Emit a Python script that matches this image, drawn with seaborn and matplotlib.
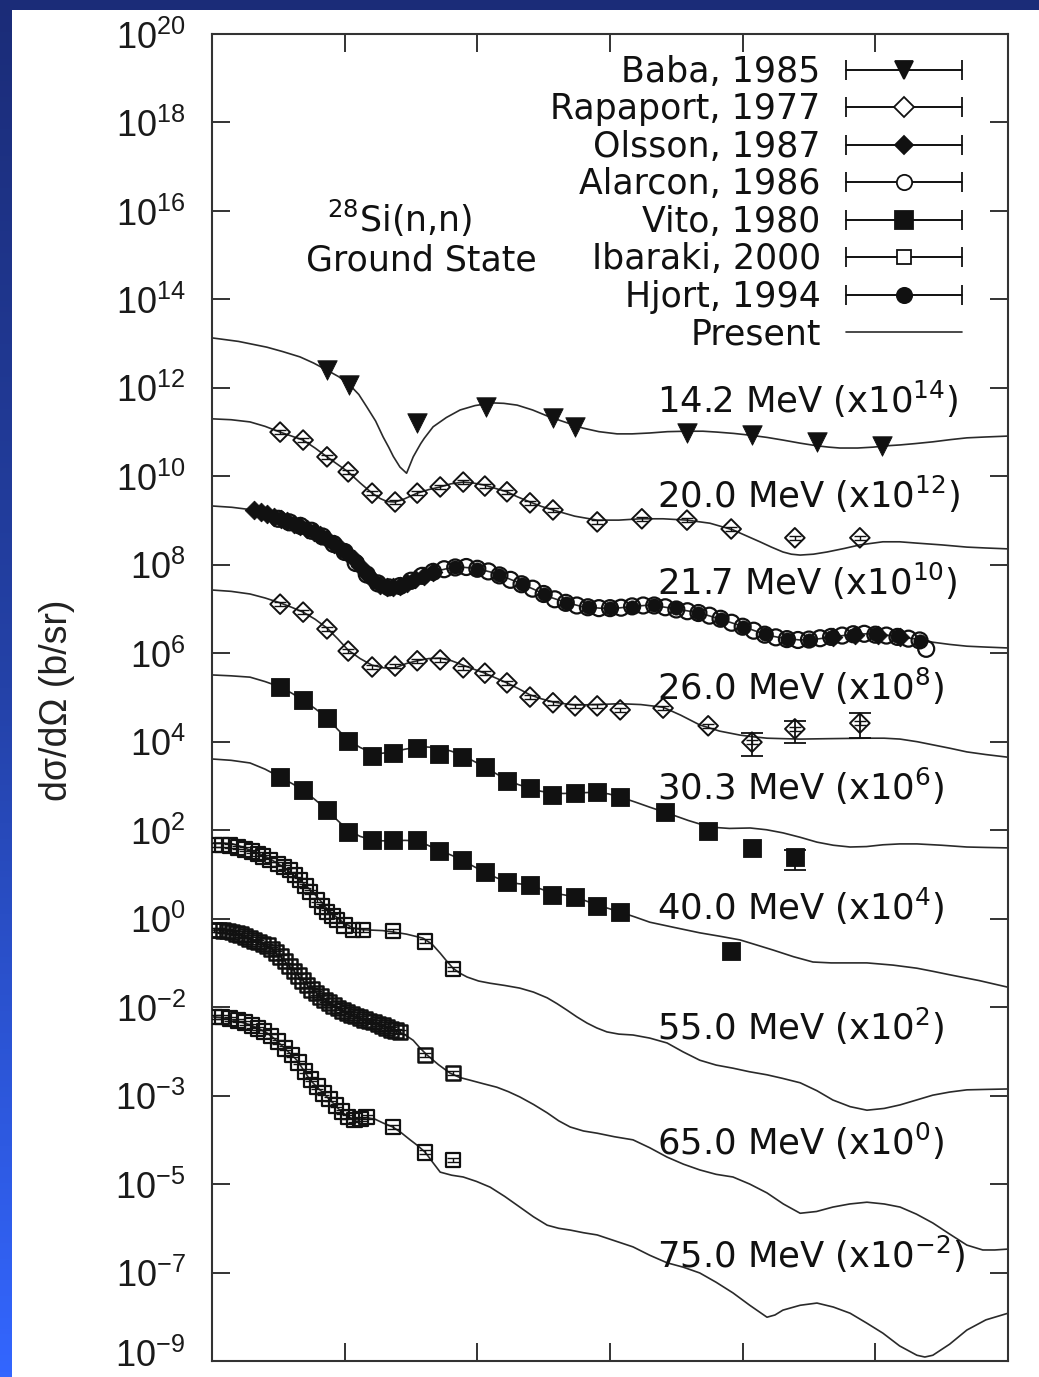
import numpy as np
import matplotlib
matplotlib.use("Agg")
import matplotlib.pyplot as plt
import seaborn as sns
from matplotlib.container import ErrorbarContainer
from matplotlib.legend_handler import HandlerErrorbar
from matplotlib.lines import Line2D
from matplotlib.patches import Rectangle
from matplotlib.ticker import FixedLocator, FixedFormatter, NullLocator
from matplotlib.colors import LinearSegmentedColormap

# ---------------- data: angle (deg) and log10 of scaled dsigma/dOmega (b/sr) ----------------
# "Present" calculation curves
c142_deg = [0, 6, 12.4, 16, 19.9, 23, 26.0, 28.7, 31.2, 33.2, 35.0, 37.0, 38.7, 40.0, 41.0, 42.5, 44.0, 45.5,
            46.4, 47.2, 48.0, 49.0, 50.0, 53.0, 56.1, 59.5, 63.5, 66.0, 69.0, 72.5, 76.4, 80.0, 83.9, 87.5,
            91.6, 95.0, 99.0, 103.0, 107.4, 111.0, 114.2, 118.0, 121.7, 125.5, 129.1, 133.0, 136.8, 139.5,
            142.0, 146.0, 149.5, 152.5, 155.6, 159.0, 163.0, 167.0, 170.7, 175.0, 180]
c142_log = [13.13, 13.05, 12.92, 12.82, 12.70, 12.56, 12.40, 12.25, 12.06, 11.85, 11.57, 11.25, 10.89, 10.65,
            10.45, 10.21, 10.07, 10.44, 10.60, 10.74, 10.86, 10.99, 11.12, 11.33, 11.50, 11.60, 11.66, 11.65,
            11.61, 11.50, 11.34, 11.22, 11.09, 11.01, 10.96, 10.96, 10.98, 11.01, 11.02, 11.02, 11.00, 10.97,
            10.93, 10.88, 10.82, 10.75, 10.69, 10.66, 10.64, 10.64, 10.66, 10.69, 10.71, 10.74, 10.78, 10.83,
            10.87, 10.89, 10.91]

c200_deg = [0, 4.3, 8.6, 12, 15.4, 20.6, 23.3, 26.0, 30.8, 33.5, 36.2, 38.0, 39.6, 41.4, 43.5, 46.4, 49.0,
            51.6, 54.0, 56.8, 59.0, 61.7, 64.0, 66.7, 69.0, 71.9, 74.5, 77.1, 82.0, 87.1, 92.0, 96.8, 102.0,
            107.4, 112.6, 117.8, 120.5, 123.9, 126.5, 129.1, 131.0, 133.0, 136.0, 139.1, 143.0, 146.5, 151.7,
            155.5, 159.4, 165.0, 170.7, 175.0, 180]
c200_log = [11.30, 11.28, 11.23, 11.13, 11.00, 10.82, 10.64, 10.44, 10.10, 9.85, 9.62, 9.50, 9.43, 9.42, 9.49,
            9.62, 9.70, 9.76, 9.83, 9.87, 9.85, 9.80, 9.73, 9.65, 9.54, 9.42, 9.32, 9.24, 9.10, 9.01, 9.01, 9.04,
            9.04, 9.01, 8.94, 8.79, 8.67, 8.52, 8.40, 8.29, 8.24, 8.22, 8.24, 8.29, 8.37, 8.45, 8.52, 8.52, 8.49,
            8.45, 8.40, 8.38, 8.36]

c217_deg = [0, 4.5, 9.3, 12.7, 16.1, 20.0, 23.7, 26.7, 29.6, 31.8, 34.1, 35.7, 37.3, 38.8, 40.3, 42.2, 44.1,
            47.0, 50.0, 53.0, 56.1, 59.5, 62.9, 66.0, 69.0, 72.7, 76.4, 80.0, 83.9, 87.7, 91.6, 95.3, 99.0,
            104.6, 110.3, 114.0, 117.8, 121.6, 125.5, 129.2, 133.0, 136.7, 140.4, 144.2, 148.1, 151.8, 155.6,
            159.3, 163.0, 166.8, 170.7, 175.0, 180]
c217_log = [9.33, 9.30, 9.24, 9.14, 9.01, 8.88, 8.72, 8.54, 8.33, 8.12, 7.88, 7.73, 7.59, 7.52, 7.48, 7.52,
            7.59, 7.73, 7.84, 7.91, 7.95, 7.92, 7.84, 7.73, 7.61, 7.45, 7.27, 7.15, 7.05, 7.02, 7.02, 7.06,
            7.09, 7.01, 6.91, 6.80, 6.68, 6.55, 6.41, 6.34, 6.30, 6.32, 6.37, 6.42, 6.44, 6.42, 6.37, 6.32,
            6.25, 6.20, 6.16, 6.14, 6.12]

c260_deg = [0, 4.3, 8.6, 12.0, 15.4, 18.0, 20.6, 23.3, 26.0, 28.4, 30.8, 33.5, 36.2, 38.8, 41.4, 44.0, 46.4,
            49.0, 51.6, 54.2, 56.8, 59.2, 61.7, 64.2, 66.7, 69.3, 71.9, 74.5, 77.1, 79.6, 82.1, 87.0, 92.3,
            97.0, 102.0, 106.0, 110.3, 114.8, 119.4, 122.5, 125.5, 129.0, 133.0, 140.0, 148.1, 152.0, 155.6,
            159.5, 163.0, 167.0, 170.7, 175.0, 180]
c260_log = [7.43, 7.40, 7.34, 7.25, 7.14, 7.04, 6.93, 6.77, 6.57, 6.33, 6.07, 5.88, 5.73, 5.67, 5.67, 5.77,
            5.83, 5.88, 5.89, 5.83, 5.73, 5.64, 5.55, 5.44, 5.33, 5.20, 5.06, 4.97, 4.90, 4.86, 4.83, 4.84,
            4.86, 4.84, 4.78, 4.60, 4.38, 4.24, 4.15, 4.11, 4.08, 4.07, 4.06, 4.07, 4.08, 4.08, 4.06, 4.00,
            3.93, 3.85, 3.77, 3.71, 3.65]

c303_deg = [0, 4.3, 8.6, 12.0, 15.4, 18.0, 20.6, 23.3, 26.0, 28.4, 30.8, 33.5, 36.2, 38.5, 40.9, 43.6, 46.4,
            48.8, 51.3, 54.0, 56.5, 59.0, 61.7, 64.2, 66.7, 69.3, 71.9, 74.4, 76.9, 79.5, 82.1, 84.6, 87.1,
            89.7, 92.3, 95.6, 99.0, 102.9, 107.7, 112.6, 117.0, 121.7, 125.4, 129.1, 133.0, 136.8, 140.5,
            144.3, 148.0, 151.7, 155.5, 159.4, 165.0, 170.7, 175.0, 180]
c303_log = [5.51, 5.49, 5.46, 5.36, 5.24, 5.10, 4.94, 4.75, 4.54, 4.28, 4.04, 3.87, 3.75, 3.74, 3.77, 3.83,
            3.88, 3.88, 3.86, 3.79, 3.70, 3.57, 3.43, 3.28, 3.14, 3.03, 2.95, 2.88, 2.84, 2.83, 2.84, 2.85,
            2.86, 2.82, 2.75, 2.64, 2.52, 2.39, 2.22, 2.07, 2.04, 2.05, 2.01, 1.94, 1.84, 1.73, 1.66, 1.62,
            1.63, 1.67, 1.69, 1.69, 1.66, 1.62, 1.61, 1.60]

c400_deg = [0, 4.3, 8.6, 12.0, 15.4, 18.0, 20.6, 23.3, 26.0, 28.4, 30.8, 33.5, 36.2, 38.5, 40.9, 43.6, 46.4,
            48.8, 51.3, 54.0, 56.5, 59.0, 61.7, 64.2, 66.7, 69.3, 71.9, 74.4, 76.9, 79.5, 82.1, 84.6, 87.1,
            89.7, 92.3, 95.6, 99.0, 104.6, 110.3, 115.0, 119.4, 123.0, 126.9, 131.5, 135.9, 140.0, 148.1,
            154.0, 159.4, 163.0, 166.9, 173.5, 180]
c400_log = [3.61, 3.58, 3.52, 3.38, 3.20, 3.06, 2.91, 2.69, 2.46, 2.22, 2.00, 1.86, 1.78, 1.76, 1.76, 1.77,
            1.76, 1.66, 1.55, 1.44, 1.33, 1.19, 1.05, 0.93, 0.83, 0.79, 0.76, 0.67, 0.58, 0.54, 0.49, 0.40,
            0.31, 0.23, 0.15, 0.04, -0.08, -0.20, -0.32, -0.40, -0.48, -0.59, -0.71, -0.86, -0.98, -1.00,
            -1.00, -1.05, -1.12, -1.19, -1.27, -1.40, -1.55]

c550_deg = [0, 2.4, 4.7, 6.6, 8.6, 10.5, 12.4, 14.7, 17.0, 19.9, 22.8, 24.4, 26.0, 27.4, 29.6, 31.9, 34.0,
            36.4, 38.6, 40.9, 44.0, 47.7, 49.8, 51.6, 53.0, 54.5, 56.0, 57.7, 60.3, 62.9, 66.2, 69.6, 72.7,
            75.8, 78.0, 80.3, 82.5, 84.8, 87.0, 89.3, 92.0, 95.2, 99.0, 102.9, 106.5, 110.3, 114.0, 117.8,
            121.5, 125.5, 129.0, 133.0, 136.8, 140.4, 144.3, 148.1, 152.0, 155.6, 159.3, 163.0, 166.8, 170.7,
            175.0, 180]
c550_log = [1.71, 1.71, 1.69, 1.63, 1.55, 1.48, 1.39, 1.26, 1.10, 0.87, 0.60, 0.42, 0.22, 0.10, -0.08, -0.21,
            -0.25, -0.26, -0.27, -0.30, -0.35, -0.44, -0.58, -0.78, -0.95, -1.12, -1.23, -1.32, -1.41, -1.46,
            -1.51, -1.57, -1.66, -1.79, -1.92, -2.07, -2.22, -2.36, -2.47, -2.56, -2.61, -2.63, -2.70, -2.81,
            -3.01, -3.20, -3.31, -3.38, -3.46, -3.53, -3.61, -3.71, -3.89, -4.10, -4.25, -4.33, -4.29, -4.21,
            -4.10, -3.99, -3.92, -3.87, -3.86, -3.85]

c650_deg = [0, 2.4, 4.7, 6.6, 8.6, 10.5, 12.4, 13.9, 15.4, 16.8, 18.3, 20.2, 22.2, 24.8, 27.4, 29.1, 30.8,
            33.5, 36.4, 39.5, 42.5, 44.0, 45.5, 47.0, 48.6, 51.2, 53.8, 56.0, 58.3, 61.3, 64.4, 67.0, 69.6,
            72.7, 75.8, 78.4, 81.0, 84.0, 87.1, 91.0, 95.2, 99.0, 102.9, 106.6, 110.3, 114.0, 117.8, 121.6,
            125.5, 129.2, 133.0, 136.7, 140.4, 144.2, 148.1, 152.0, 155.6, 159.3, 163.0, 166.8, 170.7, 174.3,
            177.0, 180]
c650_log = [-0.26, -0.27, -0.30, -0.37, -0.45, -0.52, -0.60, -0.72, -0.85, -1.00, -1.16, -1.37, -1.57, -1.78,
            -1.95, -2.07, -2.16, -2.26, -2.34, -2.45, -2.57, -2.65, -2.75, -2.92, -3.08, -3.30, -3.49, -3.59,
            -3.65, -3.73, -3.81, -3.91, -4.03, -4.20, -4.39, -4.57, -4.71, -4.80, -4.85, -4.93, -5.00, -5.18,
            -5.39, -5.55, -5.68, -5.78, -5.84, -6.00, -6.20, -6.45, -6.66, -6.62, -6.52, -6.45, -6.41, -6.45,
            -6.52, -6.68, -6.88, -7.13, -7.38, -7.49, -7.49, -7.47]

c750_deg = [0, 2.4, 4.7, 6.6, 8.6, 10.5, 12.4, 14.2, 16.1, 17.7, 19.2, 20.7, 22.2, 23.7, 25.1, 26.3, 27.4,
            28.5, 29.6, 31.2, 32.8, 33.9, 35.0, 36.8, 38.7, 40.9, 42.8, 44.8, 46.5, 48.2, 50.0, 51.6, 54.2,
            56.8, 59.8, 62.9, 66.2, 69.6, 72.7, 75.8, 78.4, 81.0, 84.0, 87.1, 91.0, 95.2, 99.0, 102.9, 106.6,
            110.3, 114.0, 117.8, 121.6, 125.5, 127.3, 129.1, 133.0, 136.8, 140.5, 144.3, 148.0, 151.7, 155.5,
            159.4, 161.2, 163.0, 166.8, 170.7, 175.0, 180]
c750_log = [-2.22, -2.24, -2.29, -2.34, -2.40, -2.48, -2.58, -2.72, -2.90, -3.05, -3.20, -3.42, -3.65, -3.80,
            -3.94, -4.06, -4.17, -4.29, -4.39, -4.50, -4.55, -4.53, -4.50, -4.53, -4.62, -4.71, -4.84, -5.00,
            -5.13, -5.28, -5.52, -5.73, -5.80, -5.84, -5.94, -6.07, -6.28, -6.52, -6.74, -6.93, -7.00, -7.04,
            -7.10, -7.15, -7.28, -7.42, -7.61, -7.78, -7.88, -8.01, -8.22, -8.46, -8.74, -9.01, -8.96, -8.85,
            -8.74, -8.69, -8.78, -8.92, -9.14, -9.37, -9.66, -9.87, -9.91, -9.87, -9.62, -9.30, -9.07, -8.92]

# experimental data
baba_deg = [26.0, 31.0, 46.4, 62.0, 77.1, 82.1, 107.4, 122.1, 136.8, 151.5]
baba_log = [12.40, 12.06, 11.21, 11.57, 11.32, 11.12, 10.98, 10.93, 10.78, 10.69]

rap20_deg = [15.4, 20.6, 26.0, 30.8, 36.2, 41.4, 46.4, 51.6, 56.8, 61.7, 66.7, 71.9, 77.1, 87.1, 97.2, 107.4,
             117.4, 131.8, 146.5]
rap20_log = [11.00, 10.82, 10.44, 10.10, 9.62, 9.42, 9.62, 9.76, 9.87, 9.78, 9.65, 9.40, 9.24, 8.97, 9.04, 9.01,
             8.81, 8.61, 8.61]

rap26_deg = [15.4, 20.6, 26.0, 30.8, 36.2, 41.4, 46.4, 51.6, 56.8, 61.7, 66.7, 71.9, 77.1, 82.1, 87.1, 92.3,
             102.0, 112.2, 122.1, 131.8, 146.5]
rap26_log = [7.11, 6.93, 6.55, 6.05, 5.69, 5.71, 5.83, 5.85, 5.67, 5.55, 5.33, 5.01, 4.88, 4.81, 4.81, 4.72,
             4.76, 4.36, 3.99, 4.29, 4.42]
rap26_err_deg = [122.1, 131.8, 146.5]
rap26_err_lo = [3.68, 3.97, 4.08]
rap26_err_hi = [4.20, 4.47, 4.65]

olsson_deg = [9.5, 11, 12.5, 14, 15.5, 17, 18.5, 20, 21.5, 23, 24.5, 26, 27.5, 29, 30.5, 32, 33.5, 35, 36.5,
              38, 39.5, 41, 42.5, 44, 46, 48, 50, 140.5, 145.5, 150.5, 155.5]
olsson_log = [9.23, 9.20, 9.15, 9.08, 9.03, 8.98, 8.92, 8.87, 8.80, 8.74, 8.67, 8.58, 8.48, 8.37, 8.26, 8.13,
              7.97, 7.80, 7.66, 7.55, 7.50, 7.49, 7.53, 7.59, 7.67, 7.75, 7.83, 6.37, 6.42, 6.42, 6.37]

alarcon_deg = [15, 17.5, 20, 22.5, 25, 27.5, 30, 32.5, 35, 37.5, 40, 42.5, 45, 47.5, 50, 52.5, 55, 57.5, 60,
               62.5, 65, 67.5, 70, 72.5, 75, 77.5, 80, 82.5, 85, 87.5, 90, 92.5, 95, 97.5, 100, 102.5, 105,
               107.5, 110, 112.5, 115, 117.5, 120, 122.5, 125, 127.5, 130, 132.5, 135, 137.5, 140, 142.5, 145,
               147.5, 150, 152.5, 155, 157.5, 160, 161.5]
alarcon_log = [9.04, 8.96, 8.88, 8.77, 8.64, 8.47, 8.29, 8.04, 7.78, 7.58, 7.49, 7.52, 7.64, 7.75, 7.84, 7.90,
               7.94, 7.95, 7.91, 7.85, 7.76, 7.66, 7.56, 7.46, 7.34, 7.22, 7.14, 7.08, 7.04, 7.02, 7.02, 7.03,
               7.06, 7.08, 7.08, 7.04, 6.99, 6.95, 6.91, 6.85, 6.78, 6.69, 6.60, 6.51, 6.42, 6.36, 6.32, 6.30,
               6.31, 6.34, 6.37, 6.40, 6.43, 6.44, 6.42, 6.40, 6.37, 6.33, 6.29, 6.10]

hjort_deg = [20, 25, 30, 35, 40, 45, 50, 55, 60, 65, 70, 75, 80, 85, 90, 95, 100, 105, 110, 115, 120, 125, 130,
             135, 140, 145, 150, 155, 160]
hjort_log = [8.85, 8.63, 8.30, 7.80, 7.49, 7.62, 7.84, 7.95, 7.90, 7.77, 7.57, 7.33, 7.13, 7.04, 7.02, 7.05,
             7.08, 7.03, 6.92, 6.78, 6.60, 6.43, 6.32, 6.30, 6.36, 6.42, 6.43, 6.38, 6.28]

vito30_deg = [15.4, 20.6, 26.0, 30.8, 36.2, 40.9, 46.4, 51.3, 56.5, 61.7, 66.7, 71.9, 76.9, 82.1, 87.1, 92.3,
              102.4, 112.2, 122.1, 131.8]
vito30_log = [5.24, 4.94, 4.54, 4.02, 3.68, 3.75, 3.86, 3.72, 3.65, 3.43, 3.11, 2.95, 2.80, 2.84, 2.86, 2.75,
              2.41, 1.98, 1.60, 1.39]
vito30_err_deg = [131.8]
vito30_err_lo = [1.10]
vito30_err_hi = [1.55]

vito40_deg = [15.4, 20.6, 26.0, 30.8, 36.2, 40.9, 46.4, 51.3, 56.5, 61.7, 66.7, 71.9, 76.9, 82.1, 87.1, 92.3,
              117.4]
vito40_log = [3.20, 2.91, 2.46, 1.96, 1.78, 1.78, 1.78, 1.53, 1.33, 1.05, 0.83, 0.76, 0.53, 0.49, 0.29, 0.15,
              -0.73]

ib55_deg = [0.7, 2.3, 4.1, 5.9, 7.5, 9.0, 10.4, 11.5, 13.1, 14.9, 16.3, 17.6, 18.8, 19.9, 21.1, 22.2, 23.7,
            24.9, 26.0, 27.2, 28.3, 29.9, 31.9, 34.1, 40.9, 48.2, 54.5]
ib55_log = [1.67, 1.67, 1.65, 1.61, 1.57, 1.52, 1.46, 1.40, 1.33, 1.24, 1.17, 1.10, 0.99, 0.87, 0.74, 0.60,
            0.42, 0.28, 0.15, 0.06, -0.03, -0.15, -0.26, -0.26, -0.28, -0.51, -1.14]

ib65_deg = [0.5, 1.5, 2.5, 3.5, 4.5, 5.5, 6.5, 7.5, 8.5, 9.5, 10.5, 11.5, 12.5, 13.5, 14.5, 15.5, 16.5, 17.5,
            18.5, 19.5, 20.5, 21.5, 22.5, 23.5, 24.5, 25.5, 26.5, 27.5, 28.5, 29.5, 30.5, 31.5, 32.5, 33.5, 34.5,
            35.5, 36.5, 37.5, 38.5, 39.5, 40.5, 41.5, 42.5, 48.2, 54.5]
ib65_log = [-0.26, -0.26, -0.27, -0.28, -0.30, -0.33, -0.36, -0.40, -0.45, -0.49, -0.53, -0.57, -0.61, -0.69,
            -0.77, -0.86, -0.96, -1.07, -1.18, -1.29, -1.40, -1.50, -1.60, -1.68, -1.76, -1.84, -1.90, -1.96,
            -2.02, -2.07, -2.12, -2.16, -2.20, -2.24, -2.28, -2.31, -2.34, -2.38, -2.42, -2.46, -2.50, -2.53,
            -2.56, -3.08, -3.49]

ib75_deg = [0.7, 2.3, 4.1, 5.9, 7.5, 9.0, 10.4, 11.8, 13.3, 14.9, 16.5, 18.1, 19.6, 21.0, 22.4, 23.8, 25.2,
            26.6, 28.0, 29.4, 30.8, 32.2, 33.6, 35.0, 40.9, 48.2, 54.5]
ib75_log = [-2.22, -2.22, -2.26, -2.30, -2.35, -2.42, -2.48, -2.55, -2.65, -2.78, -2.93, -3.08, -3.25, -3.45,
            -3.63, -3.80, -3.95, -4.08, -4.22, -4.36, -4.48, -4.55, -4.53, -4.48, -4.71, -5.28, -5.46]

OPEN_REL_ERR = 0.10   # small error bars drawn inside open symbols

energy_labels = ["14.2 MeV (x10$^{14}$)", "20.0 MeV (x10$^{12}$)", "21.7 MeV (x10$^{10}$)",
                 "26.0 MeV (x10$^{8}$)", "30.3 MeV (x10$^{6}$)", "40.0 MeV (x10$^{4}$)",
                 "55.0 MeV (x10$^{2}$)", "65.0 MeV (x10$^{0}$)", "75.0 MeV (x10$^{-2}$)"]
ytick_exps = [20, 18, 16, 14, 12, 10, 8, 6, 4, 2, 0, -2, -4, -6, -8, -10]
ytick_labels = ["$10^{20}$", "$10^{18}$", "$10^{16}$", "$10^{14}$", "$10^{12}$", "$10^{10}$", "$10^{8}$",
                "$10^{6}$", "$10^{4}$", "$10^{2}$", "$10^{0}$", "$10^{-2}$", "$10^{-3}$", "$10^{-5}$",
                "$10^{-7}$", ""]
bottom_label = "$10^{-9}$"   # last tick label, lifted slightly so it stays inside the picture
legend_labels = ["Baba, 1985", "Rapaport, 1977", "Olsson, 1987", "Alarcon, 1986", "Vito, 1980",
                 "Ibaraki, 2000", "Hjort, 1994", "Present"]

# ---------------- style ----------------
sns.set_style("white")
plt.rcParams["font.family"] = ["DejaVu Sans"]
plt.rcParams["mathtext.fontset"] = "custom"
plt.rcParams["mathtext.rm"] = "Liberation Sans"
plt.rcParams["mathtext.it"] = "Liberation Sans:italic"
plt.rcParams["mathtext.bf"] = "Liberation Sans:bold"
plt.rcParams["mathtext.sf"] = "Liberation Sans"

INK = "#111111"
LINE = "#2a2a2a"
AXC = "#333333"

W, H = 1039, 1377
fig = plt.figure(figsize=(W / 100, H / 100), dpi=100, facecolor="white")

# blue slide frame
strip = fig.add_axes([0, 0, 12 / W, 1])
cmap = LinearSegmentedColormap.from_list("frame", ["#1b2c78", "#2442a8", "#3366ff"])
strip.imshow(np.linspace(0, 1, 256).reshape(-1, 1), aspect="auto", cmap=cmap)
strip.set_axis_off()
fig.add_artist(Rectangle((0, 1 - 10 / H), 1, 10 / H, transform=fig.transFigure,
                         facecolor="#1b2c78", edgecolor="none", zorder=5))

ax = fig.add_axes([212 / W, 1 - 1361 / H, (1008 - 212) / W, (1361 - 34) / H])
ax.set_facecolor("white")
ax.set_yscale("log")

# curves
curves = [(c142_deg, c142_log), (c200_deg, c200_log), (c217_deg, c217_log), (c260_deg, c260_log),
          (c303_deg, c303_log), (c400_deg, c400_log), (c550_deg, c550_log), (c650_deg, c650_log),
          (c750_deg, c750_log)]
for d, l in curves:
    sns.lineplot(x=d, y=10.0 ** np.asarray(l), ax=ax, color=LINE, linewidth=1.2,
                 sort=False, estimator=None, zorder=2)


def filled(deg, logv, marker, size):
    sns.scatterplot(x=deg, y=10.0 ** np.asarray(logv), marker=marker, s=size ** 2, color=INK,
                    edgecolor=INK, linewidth=0.6, ax=ax, zorder=3, legend=False)


def hollow(deg, logv, marker, size, caps=True, lw=1.4):
    y = 10.0 ** np.asarray(logv)
    sns.scatterplot(x=deg, y=y, marker=marker, s=size ** 2, facecolors="none",
                    edgecolor=INK, linewidth=lw, ax=ax, zorder=3, legend=False)
    if caps:
        ax.errorbar(deg, y, yerr=y * OPEN_REL_ERR, fmt="none", ecolor=INK, elinewidth=1.0,
                    capsize=size * 0.4, capthick=1.0, zorder=3)


def bars(deg, lo, hi):
    x = np.asarray(deg)
    ylo = 10.0 ** np.asarray(lo)
    yhi = 10.0 ** np.asarray(hi)
    ymid = np.sqrt(ylo * yhi)
    ax.errorbar(x, ymid, yerr=[ymid - ylo, yhi - ymid], fmt="none", ecolor=INK, elinewidth=1.3,
                capsize=8, capthick=1.3, zorder=3)


filled(baba_deg, baba_log, "v", 14)
hollow(rap20_deg, rap20_log, "D", 10)
hollow(rap26_deg, rap26_log, "D", 10)
bars(rap26_err_deg, rap26_err_lo, rap26_err_hi)
filled(olsson_deg, olsson_log, "D", 9.5)
filled(hjort_deg, hjort_log, "o", 9.5)
hollow(alarcon_deg, alarcon_log, "o", 11.5, caps=False, lw=1.6)
filled(vito30_deg, vito30_log, "s", 13)
bars(vito30_err_deg, vito30_err_lo, vito30_err_hi)
filled(vito40_deg, vito40_log, "s", 13)
hollow(ib55_deg, ib55_log, "s", 10.5, lw=1.6)
hollow(ib65_deg, ib65_log, "s", 10.5, lw=1.8)
hollow(ib75_deg, ib75_log, "s", 10.5, lw=1.6)


# legend proxies
def proxy(marker, ms, mfc):
    return ax.errorbar([np.nan], [np.nan], xerr=[1.0], fmt="-", marker=marker, ms=ms, mfc=mfc, mec=INK,
                       mew=1.3, color=INK, lw=1.2, elinewidth=1.2, capsize=7, capthick=1.2)


handles = [proxy("v", 13, INK), proxy("D", 10, "white"), proxy("D", 9, INK), proxy("o", 11, "white"),
           proxy("s", 13, INK), proxy("s", 10, "white"), proxy("o", 11, INK),
           Line2D([], [], color=LINE, lw=1.2)]
leg = ax.legend(handles, legend_labels, loc="upper right", bbox_to_anchor=(962 / W, 1 - 55 / H),
                bbox_transform=fig.transFigure, frameon=False, markerfirst=False, numpoints=1,
                handlelength=3.35, handletextpad=0.72, labelspacing=0.1, borderpad=0, borderaxespad=0,
                prop={"family": "DejaVu Sans", "size": 25},
                handler_map={ErrorbarContainer: HandlerErrorbar(xerr_size=1.675)})
for t in leg.get_texts():
    t.set_color(INK)

# axes
ax.set_xlim(0, 180)
ax.set_ylim(1e-10, 1e20)
ax.xaxis.set_major_locator(FixedLocator([30, 60, 90, 120, 150]))
ax.yaxis.set_major_locator(FixedLocator([10.0 ** e for e in ytick_exps]))
ax.yaxis.set_major_formatter(FixedFormatter(ytick_labels))
ax.yaxis.set_minor_locator(NullLocator())
ax.xaxis.set_minor_locator(NullLocator())
ax.tick_params(axis="both", which="major", direction="in", length=13, width=1.4, color=AXC,
               left=True, bottom=True, top=True, right=True, labelbottom=False, labelleft=True,
               labelsize=26, labelcolor="#1a1a1a", pad=19)
for s in ax.spines.values():
    s.set_linewidth(1.5)
    s.set_color(AXC)
    s.set_visible(True)
ax.set_xlabel("")
ax.set_ylabel("")

# bottom tick label, kept fully inside the picture
fig.text(185 / W, 3 / H, bottom_label, ha="right", va="bottom", fontsize=26, color="#1a1a1a")

# text annotations
lab_y = [0.7144, 0.6428, 0.5772, 0.4981, 0.4228, 0.3323, 0.2419, 0.1552, 0.0701]
for txt, yy in zip(energy_labels, lab_y):
    ax.text(0.559, yy, txt, transform=ax.transAxes, ha="left", va="baseline", fontsize=25.5,
            family="DejaVu Sans", math_fontfamily="dejavusans", color=INK, zorder=4)

ax.text(0.236, 0.8508, "$^{28}$Si(n,n)", transform=ax.transAxes, ha="center", va="baseline",
        fontsize=25, family="DejaVu Sans", math_fontfamily="dejavusans", color=INK)
ax.text(0.2626, 0.8221, "Ground State", transform=ax.transAxes, ha="center", va="baseline",
        fontsize=25, family="DejaVu Sans", color=INK)

fig.text(57 / W, 1 - 700 / H, "dσ/dΩ (b/sr)", rotation=90, ha="center", va="center",
         fontsize=27, family="Liberation Sans", color="#222222")

fig.savefig("out.png", dpi=100)
